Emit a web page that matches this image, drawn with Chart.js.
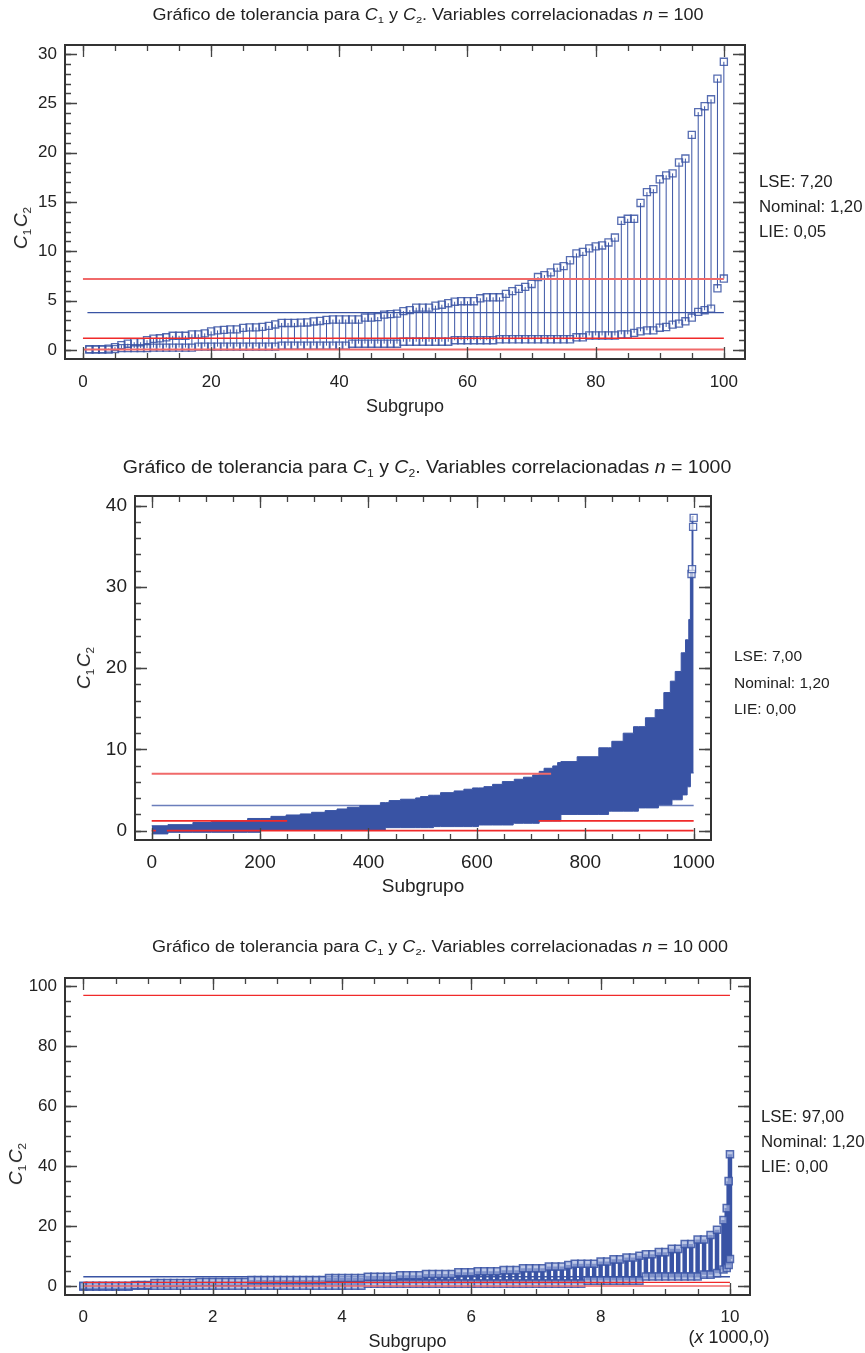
<!DOCTYPE html>
<html>
<head>
<meta charset="utf-8">
<script src="https://cdn.jsdelivr.net/npm/chart.js@4.4.1/dist/chart.umd.min.js"></script>
<style>
  body { margin: 0; background: #fff; }
  #page { position: relative; width: 865px; height: 1353px; overflow: hidden;
          font-family: "Liberation Sans", Arial, sans-serif; color: #222; }
  canvas { position: absolute; left: 0; }
  .t  { position: absolute; white-space: nowrap; font-size: 16px; transform: translate(-50%, -50%) scaleX(1.125); }
  .r  { position: absolute; white-space: nowrap; font-size: 16.8px; transform: translateY(-50%); }
  .yl { position: absolute; white-space: nowrap; font-size: 19px; transform: translate(-50%, -50%) rotate(-90deg); }
  sub { font-size: 0.62em; vertical-align: baseline; position: relative; top: 0.35em; }
</style>
</head>
<body>
<div id="page">
  <canvas id="c1" width="865" height="420" style="top:0px"></canvas>
  <canvas id="c2" width="865" height="460" style="top:440px"></canvas>
  <canvas id="c3" width="865" height="433" style="top:920px"></canvas>

  <div class="t" style="left:428px;top:15px">Gráfico de tolerancia para <i>C</i><sub>1</sub> y <i>C</i><sub>2</sub>. Variables correlacionadas <i>n</i> = 100</div>
  <div class="yl" style="left:21px;top:228px"><i>C</i><sub>1</sub>&#8202;<i>C</i><sub>2</sub></div>
  <div class="r" style="left:759px;top:182px">LSE: 7,20</div>
  <div class="r" style="left:759px;top:207px">Nominal: 1,20</div>
  <div class="r" style="left:759px;top:232px">LIE: 0,05</div>

  <div class="t" style="left:427px;top:467px;font-size:18px;transform:translate(-50%,-50%) scaleX(1.085)">Gráfico de tolerancia para <i>C</i><sub>1</sub> y <i>C</i><sub>2</sub>. Variables correlacionadas <i>n</i> = 1000</div>
  <div class="yl" style="left:84px;top:668px"><i>C</i><sub>1</sub>&#8202;<i>C</i><sub>2</sub></div>
  <div class="r" style="left:734px;top:656px;font-size:15.5px">LSE: 7,00</div>
  <div class="r" style="left:734px;top:683px;font-size:15.5px">Nominal: 1,20</div>
  <div class="r" style="left:734px;top:709px;font-size:15.5px">LIE: 0,00</div>

  <div class="t" style="left:440px;top:947px">Gráfico de tolerancia para <i>C</i><sub>1</sub> y <i>C</i><sub>2</sub>. Variables correlacionadas <i>n</i> = 10 000</div>
  <div class="yl" style="left:16px;top:1164px"><i>C</i><sub>1</sub>&#8202;<i>C</i><sub>2</sub></div>
  <div class="r" style="left:761px;top:1117px">LSE: 97,00</div>
  <div class="r" style="left:761px;top:1142px">Nominal: 1,20</div>
  <div class="r" style="left:761px;top:1167px">LIE: 0,00</div>
  <div class="t" style="left:729px;top:1337px;font-size:18px;transform:translate(-50%,-50%)">(<i>x</i> 1000,0)</div>
</div>

<script>
// ---- chart 1: n = 100, one column per subgroup (1..100) ----
const up1 = [0.1, 0.1, 0.1, 0.15, 0.3, 0.5, 0.65, 0.8, 0.8, 1.0,
             1.15, 1.2, 1.3, 1.45, 1.45, 1.45, 1.6, 1.6, 1.7, 1.9,
             2.0, 2.05, 2.1, 2.1, 2.25, 2.3, 2.3, 2.35, 2.45, 2.6,
             2.75, 2.75, 2.75, 2.78, 2.8, 2.9, 2.95, 3.05, 3.1, 3.1,
             3.1, 3.1, 3.1, 3.3, 3.3, 3.35, 3.6, 3.65, 3.7, 3.95,
             4.05, 4.3, 4.3, 4.3, 4.5, 4.6, 4.75, 4.9, 4.95, 4.95,
             4.95, 5.25, 5.35, 5.35, 5.35, 5.7, 5.97, 6.2, 6.4, 6.7,
             7.4, 7.6, 7.87, 8.35, 8.5, 9.1, 9.8, 9.95, 10.3, 10.5,
             10.6, 10.9, 11.4, 13.1, 13.3, 13.3, 14.9, 16.0, 16.3, 17.3,
             17.7, 17.9, 19.0, 19.4, 21.8, 24.1, 24.7, 25.4, 27.5, 29.2];
const lo1 = [0.05, 0.05, 0.05, 0.05, 0.1, 0.2, 0.2, 0.2, 0.2, 0.2,
             0.25, 0.25, 0.25, 0.25, 0.25, 0.25, 0.25, 0.35, 0.35, 0.35,
             0.35, 0.35, 0.35, 0.35, 0.35, 0.35, 0.35, 0.35, 0.35, 0.35,
             0.45, 0.45, 0.45, 0.45, 0.45, 0.45, 0.45, 0.45, 0.45, 0.45,
             0.45, 0.65, 0.65, 0.65, 0.65, 0.65, 0.65, 0.65, 0.65, 0.85,
             0.85, 0.85, 0.85, 0.85, 0.85, 0.85, 0.85, 1.0, 1.0, 1.0,
             1.0, 1.0, 1.0, 1.0, 1.1, 1.1, 1.1, 1.1, 1.1, 1.1,
             1.1, 1.1, 1.1, 1.1, 1.1, 1.1, 1.3, 1.3, 1.48, 1.48,
             1.48, 1.48, 1.48, 1.6, 1.6, 1.75, 1.9, 2.0, 2.0, 2.27,
             2.34, 2.58, 2.68, 2.92, 3.3, 3.87, 4.04, 4.2, 6.26, 7.25];
const lse1 = 7.2, nom1 = 1.2, lie1 = 0.05, mid1 = 3.8;
const span1 = [[0, 100]];

// ---- chart 2: n = 1000, upper / lower envelope at breakpoints (value holds to next) ----
const x2  = [0, 30, 76, 110, 177, 200, 220, 248, 274, 295, 320, 342, 361, 384, 422, 431,
             438, 459, 487, 496, 511, 520, 533, 558, 576, 592, 603, 613, 629, 647, 667, 669,
             686, 703, 715, 724, 740, 749, 755, 785, 825, 843, 849, 870, 889, 898, 911, 929,
             935, 945, 957, 960, 966, 977, 979, 985, 988, 991, 994, 997, 1000];
const up2 = [0.6, 0.74, 1.0, 1.23, 1.5, 1.5, 1.76, 1.93, 2.06, 2.26, 2.47, 2.67, 2.88, 3.08, 3.45, 3.45,
             3.7, 3.87, 4.03, 4.19, 4.36, 4.36, 4.68, 4.89, 5.1, 5.26, 5.26, 5.42, 5.7, 6.04, 6.04, 6.33,
             6.58, 6.86, 7.3, 7.68, 7.97, 8.38, 8.5, 9.1, 10.2, 10.2, 11.0, 12.0, 12.8, 12.8, 13.9, 14.9,
             14.9, 17.0, 18.4, 18.4, 19.6, 21.9, 21.9, 23.5, 23.5, 26.0, 32.0, 38.7, 38.7];
const lo2 = [-0.4, -0.2, -0.2, -0.2, -0.2, 0.05, 0.05, 0.05, 0.05, 0.05, 0.05, 0.05, 0.05, 0.05, 0.05, 0.37,
             0.37, 0.37, 0.37, 0.37, 0.37, 0.5, 0.5, 0.5, 0.5, 0.5, 0.7, 0.7, 0.7, 0.7, 0.91, 0.91,
             0.91, 0.91, 1.2, 1.2, 1.2, 1.2, 2.0, 2.0, 2.0, 2.4, 2.4, 2.4, 2.4, 2.8, 2.8, 2.8,
             3.2, 3.2, 3.2, 3.8, 3.8, 3.8, 4.4, 4.4, 5.4, 5.4, 7.1, 7.1, 7.1];
const mk2x = [996, 997, 999, 1000];
const mk2y = [31.6, 32.2, 37.4, 38.5];
const lse2 = 7.0, nom2 = 1.2, lie2 = 0.0, mid2 = 3.1;
const lseSpan2 = [[0, 737]];
const nomSpan2 = [[0, 250], [714, 1000]];
const lieSpan2 = [[0, 8], [28, 1000]];

// ---- chart 3: n = 10 000, one column every 100 subgroups plus the last few ----
const sub3 = Array.from({ length: 100 }, (_, k) => (k === 0 ? 1 : k * 100)).concat([9950, 9980, 10000]);
const up3 = [0.1, 0.1, 0.1, 0.1, 0.1, 0.1, 0.1, 0.1, 0.3, 0.3,
             0.3, 1.0, 1.0, 1.0, 1.0, 1.0, 1.0, 1.0, 1.3, 1.3,
             1.3, 1.3, 1.3, 1.3, 1.3, 1.3, 2.0, 2.0, 2.0, 2.0,
             2.0, 2.0, 2.0, 2.0, 2.0, 2.0, 2.0, 2.0, 2.7, 2.7,
             2.7, 2.7, 2.7, 2.7, 3.1, 3.1, 3.1, 3.1, 3.1, 3.6,
             3.6, 3.6, 3.6, 4.0, 4.0, 4.0, 4.0, 4.0, 4.6, 4.6,
             4.6, 4.9, 4.9, 4.9, 4.9, 5.3, 5.3, 5.3, 5.9, 5.9,
             5.9, 5.9, 6.5, 6.5, 6.5, 7.0, 7.4, 7.4, 7.4, 7.4,
             8.2, 8.2, 8.9, 8.9, 9.5, 9.5, 10.1, 10.6, 10.6, 11.3,
             11.3, 12.4, 12.4, 14.0, 14.0, 15.5, 15.5, 17.0, 18.8, 22.0,
             26.0, 35.0, 44.0];
const lo3 = [-0.2, -0.2, -0.2, -0.2, -0.2, -0.2, -0.2, -0.2, 0.1, 0.1,
             0.1, 0.1, 0.1, 0.1, 0.1, 0.1, 0.1, 0.1, 0.1, 0.1,
             0.1, 0.1, 0.1, 0.1, 0.1, 0.1, 0.1, 0.1, 0.1, 0.1,
             0.1, 0.1, 0.1, 0.1, 0.1, 0.1, 0.1, 0.1, 0.1, 0.1,
             0.1, 0.1, 0.1, 0.1, 0.8, 0.8, 0.8, 0.8, 0.8, 0.8,
             0.8, 0.8, 0.8, 0.8, 0.8, 0.8, 0.8, 0.8, 0.8, 0.8,
             0.8, 0.8, 0.8, 0.8, 0.8, 0.8, 0.8, 0.8, 0.8, 0.8,
             0.8, 0.8, 0.8, 0.8, 0.8, 0.8, 0.8, 0.8, 1.8, 1.8,
             1.8, 1.8, 1.8, 1.8, 1.8, 1.8, 1.8, 3.2, 3.2, 3.2,
             3.2, 3.2, 3.2, 3.2, 3.2, 3.2, 3.8, 3.8, 4.3, 5.5,
             6.0, 7.0, 9.0];
const lse3 = 97.0, nom3 = 1.2, lie3 = 0.0, mid3 = 3.1;
const span3 = [[0, 10]];

const BLUE = '#3953a4';
const MARK = 'rgba(57, 83, 164, 0.85)';
const RED = '#f02a2a';
const PINK = '#f06a6a';
const FONT = '"Liberation Sans", Arial, sans-serif';

// horizontal line pieces, broken by null points
function hline(y, spans) {
  const pts = [];
  spans.forEach(([a, b], i) => {
    if (i) pts.push({ x: a, y: null });
    pts.push({ x: a, y: y }, { x: b, y: y });
  });
  return pts;
}
// one vertical stroke lo -> hi per subgroup
function columns(xs, lo, up) {
  const pts = [];
  xs.forEach((x, i) => pts.push({ x: x, y: lo[i] }, { x: x, y: up[i] }, { x: x, y: null }));
  return pts;
}
function refLine(y, spans, color, width, order) {
  return { data: hline(y, spans), borderColor: color, borderWidth: width, pointRadius: 0, order: order };
}

// box and inward ticks on all four sides
const frame = {
  id: 'frame',
  afterDatasetsDraw(chart, args, o) {
    const { ctx, chartArea: a, scales: { x, y } } = chart;
    ctx.save();
    ctx.strokeStyle = '#444';
    ctx.lineWidth = 1.3;
    const marks = (scale, step, len) => {
      const first = Math.ceil(scale.min / step);
      const last = Math.floor(scale.max / step);
      ctx.beginPath();
      for (let k = first; k <= last; k++) {
        const p = Math.round(scale.getPixelForValue(k * step)) + 0.5;
        if (scale.isHorizontal()) {
          ctx.moveTo(p, a.bottom); ctx.lineTo(p, a.bottom - len);
          ctx.moveTo(p, a.top); ctx.lineTo(p, a.top + len);
        } else {
          ctx.moveTo(a.left, p); ctx.lineTo(a.left + len, p);
          ctx.moveTo(a.right, p); ctx.lineTo(a.right - len, p);
        }
      }
      ctx.stroke();
    };
    marks(x, o.xMinor, 6);
    marks(x, o.xMajor, 12);
    marks(y, o.yMinor, 6);
    marks(y, o.yMajor, 12);
    ctx.lineWidth = 2;
    ctx.strokeStyle = '#333';
    ctx.strokeRect(a.left, a.top, a.width, a.height);
    ctx.restore();
  }
};

function build(id, o) {
  return new Chart(document.getElementById(id), {
    type: 'line',
    data: { datasets: o.datasets },
    options: {
      responsive: false,
      animation: false,
      devicePixelRatio: 1,
      layout: { padding: { top: o.pad[0], right: o.pad[1], bottom: 0, left: 0 } },
      elements: { line: { tension: 0 } },
      plugins: {
        legend: { display: false },
        tooltip: { enabled: false },
        frame: { xMajor: o.x[2], xMinor: o.x[3], yMajor: o.y[2], yMinor: o.y[3] }
      },
      scales: {
        x: {
          type: 'linear', min: o.x[0], max: o.x[1],
          afterFit: s => { s.height = o.xh; },
          grid: { display: false, drawTicks: false },
          border: { display: false },
          ticks: {
            stepSize: o.x[2], includeBounds: false, autoSkip: false, maxRotation: 0,
            padding: o.tp, color: '#222', font: { family: FONT, size: o.fs },
            callback: v => String(v)
          },
          title: { display: true, text: 'Subgrupo', color: '#222',
                   font: { family: FONT, size: o.ts }, padding: { top: 0, bottom: o.tb } }
        },
        y: {
          type: 'linear', min: o.y[0], max: o.y[1],
          afterFit: s => { s.width = o.yw; },
          grid: { display: false, drawTicks: false },
          border: { display: false },
          ticks: {
            stepSize: o.y[2], includeBounds: false, padding: 8,
            color: '#222', font: { family: FONT, size: o.fs },
            callback: v => String(v)
          }
        }
      }
    },
    plugins: [frame]
  });
}

const sub1 = up1.map((_, i) => i + 1);

build('c1', {
  pad: [45, 120], yw: 65, xh: 61, tp: 13, tb: 2, fs: 17, ts: 18,
  x: [-2.8, 103.3, 20, 5], y: [-0.9, 30.9, 5, 1],
  datasets: [
    refLine(lse1, span1, PINK, 2, 0),
    refLine(nom1, span1, RED, 1.3, 0),
    refLine(lie1, span1, PINK, 2, 0),
    refLine(mid1, [[0.7, 100]], BLUE, 1.2, 0),
    { data: columns(sub1, lo1, up1), borderColor: BLUE, borderWidth: 1,
      pointStyle: 'rect', pointRadius: 5, pointBorderWidth: 1.3,
      pointBorderColor: MARK, pointBackgroundColor: 'rgba(0,0,0,0)', order: 1 }
  ]
});

build('c2', {
  pad: [56, 154], yw: 135, xh: 60, tp: 11, tb: 2, fs: 19, ts: 19,
  x: [-30.8, 1032, 200, 50], y: [-1.15, 41.2, 10, 2],
  datasets: [
    refLine(lse2, lseSpan2, PINK, 2, 0),
    refLine(nom2, nomSpan2, RED, 1.6, 0),
    refLine(lie2, lieSpan2, RED, 1.6, 0),
    { data: mk2x.map((x, i) => ({ x: x, y: mk2y[i] })), showLine: false,
      pointStyle: 'rect', pointRadius: 5, pointBorderWidth: 1.3,
      pointBorderColor: MARK, pointBackgroundColor: 'rgba(255,255,255,0.6)', order: 1 },
    { data: x2.map((x, i) => ({ x: x, y: up2[i] })), stepped: 'before', fill: '+1',
      backgroundColor: BLUE, borderColor: BLUE, borderWidth: 1, pointRadius: 0, order: 2 },
    { data: x2.map((x, i) => ({ x: x, y: lo2[i] })), stepped: 'before', fill: false,
      borderColor: BLUE, borderWidth: 1, pointRadius: 0, order: 3 },
    refLine(mid2, [[0, 1000]], 'rgba(57,83,164,0.75)', 1.6, 4)
  ]
});

// chart 3 x axis is in thousands of subgroups
const k3 = sub3.map(s => s / 1000);

build('c3', {
  pad: [58, 115], yw: 65, xh: 58, tp: 12, tb: 0, fs: 17, ts: 18,
  x: [-0.283, 10.31, 2, 0.5], y: [-3.0, 102.8, 20, 5],
  datasets: [
    refLine(lse3, span3, RED, 1.4, 0),
    refLine(nom3, span3, RED, 1.4, 0),
    refLine(lie3, span3, PINK, 1.6, 0),
    { data: columns(k3, lo3, up3), borderColor: BLUE, borderWidth: 4.5,
      pointStyle: 'rect', pointRadius: 5, pointBorderWidth: 1.5,
      pointBorderColor: MARK, pointBackgroundColor: 'rgba(160,175,220,0.7)', order: 1 },
    refLine(mid3, span3, BLUE, 1.4, 2)
  ]
});
</script>
</body>
</html>
